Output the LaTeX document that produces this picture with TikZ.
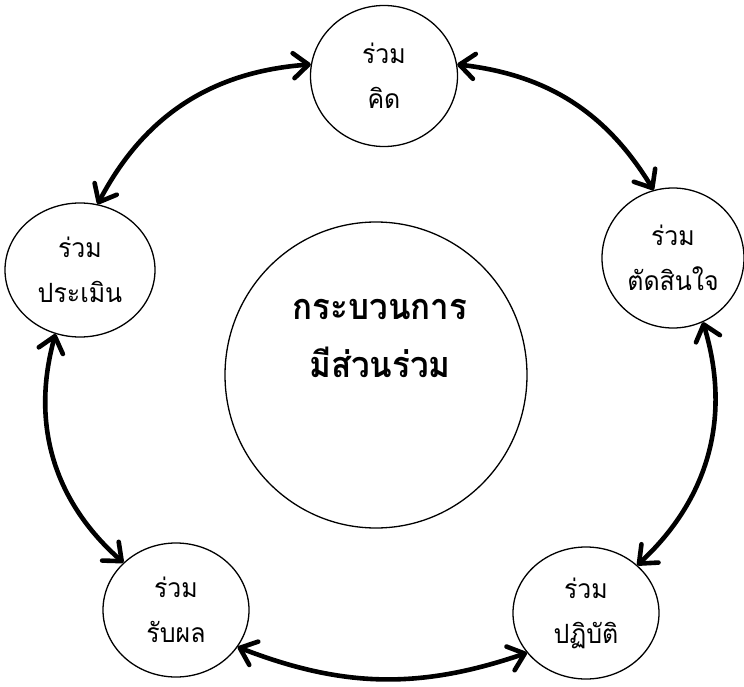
\documentclass[tikz,border=0pt]{standalone}
\usepackage{fontspec}
\newfontfamily\thaifont[Script=Thai,FakeStretch=0.94]{Loma}
\newfontfamily\thaititle[Script=Thai,FakeStretch=0.92]{Loma}
\usetikzlibrary{arrows.meta,shapes.geometric}
\begin{document}
\begin{tikzpicture}[x=1pt,y=-1pt,
  stage/.style={ellipse,draw,line width=1.3pt,inner sep=0pt,align=center,
    font=\thaifont\fontsize{26.5}{45}\selectfont},
  hub/.style={ellipse,draw,line width=1.3pt,inner sep=0pt},
  title/.style={align=center,font=\thaititle\bfseries\fontsize{36}{58}\selectfont},
  link/.style={line width=4.6pt,
    {Straight Barb[round,length=15pt,width=25pt]}-{Straight Barb[round,length=15pt,width=25pt]}}]
\useasboundingbox (0,0) rectangle (744,687);

% participation stages around the cycle
\node[stage,minimum width=147pt,minimum height=141pt] (think)  at (384,76)  {ร่วม\\คิด};
\node[stage,minimum width=142pt,minimum height=140pt] (decide) at (673,258) {ร่วม\\ตัดสินใจ};
\node[stage,minimum width=146pt,minimum height=132pt] (act)    at (586,613) {ร่วม\\ปฏิบัติ};
\node[stage,minimum width=146pt,minimum height=134pt] (gain)   at (176,610) {ร่วม\\รับผล};
\node[stage,minimum width=150pt,minimum height=134pt] (assess) at (80,270)  {ร่วม\\ประเมิน};

% central process
\node[hub,minimum width=302pt,minimum height=306pt] (hub) at (376,375) {};
\node[title] (hubtext) at (380,338) {กระบวนการ\\มีส่วนร่วม};

% two-way links between neighbouring stages
\draw[link] (think.9)    to[bend left=26] (decide.106);
\draw[link] (decide.295) to[bend left=32] (act.43);
\draw[link] (act.214)    to[bend left=20] (gain.329);
\draw[link] (gain.138)   to[bend left=32] (assess.249);
\draw[link] (assess.75)  to[bend left=29] (think.171);
\end{tikzpicture}
\end{document}
